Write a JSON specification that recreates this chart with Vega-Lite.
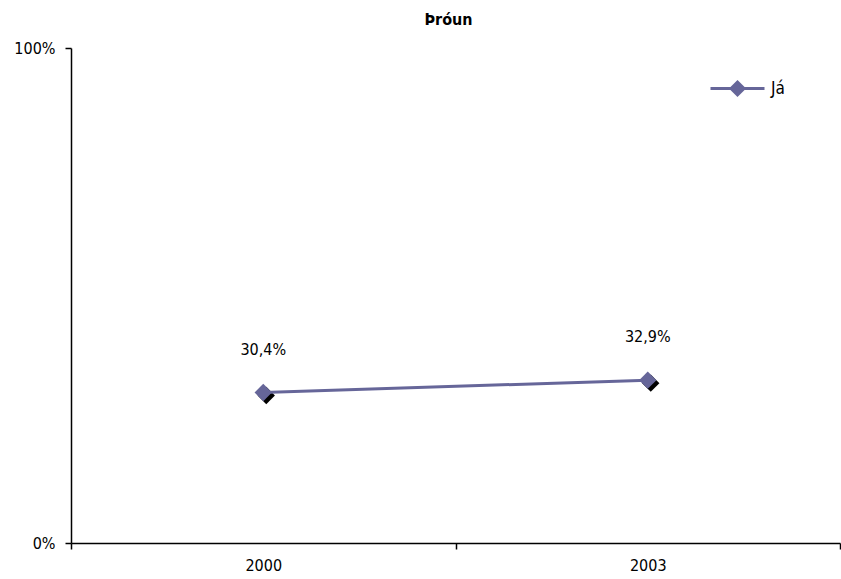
{
  "$schema": "https://vega.github.io/schema/vega-lite/v6.json",
  "width": 769,
  "height": 495,
  "autosize": {"type": "none"},
  "padding": {"left": 71, "top": 48, "right": 1, "bottom": 36},
  "background": "white",
  "config": {
    "view": {"stroke": null},
    "font": "DejaVu Sans Condensed, Liberation Sans, sans-serif",
    "axis": {"grid": false, "domainColor": "black", "tickColor": "black", "labelColor": "black", "labelFont": "DejaVu Sans Condensed, Liberation Sans, sans-serif", "labelFontSize": 16, "domainWidth": 1.5, "tickWidth": 1.5}
  },
  "title": {"text": "Þróun", "fontSize": 16, "fontWeight": "bold", "font": "DejaVu Sans Condensed, Liberation Sans, sans-serif", "color": "black", "offset": 12, "anchor": "middle", "dx": -7},
  "data": {"values": [
    {"year": "2000", "value": 0.304, "label": "30,4%", "series": "Já"},
    {"year": "2003", "value": 0.329, "label": "32,9%", "series": "Já"}
  ]},
  "encoding": {
    "x": {"field": "year", "type": "nominal", "scale": {"type": "band", "paddingInner": 0, "paddingOuter": 0}, "axis": {"title": null, "labelAngle": 0, "tickBand": "extent", "tickSize": 6, "labelPadding": 8}},
    "y": {"field": "value", "type": "quantitative", "scale": {"domain": [0, 1]}, "axis": {"title": null, "values": [0, 1], "format": ".0%", "tickSize": 6, "labelPadding": 10}}
  },
  "layer": [
    {"mark": {"type": "point", "shape": "diamond", "filled": true, "size": 300, "color": "black", "opacity": 1, "xOffset": 3, "yOffset": 3}},
    {"mark": {"type": "line", "strokeWidth": 3},
     "encoding": {"color": {"field": "series", "type": "nominal", "scale": {"range": ["#666699"]},
       "legend": {"title": null, "orient": "none", "legendX": 638, "legendY": 12, "symbolType": "M-1,0H1M-0.24,0L0,-0.24L0.24,0L0,0.24Z", "symbolSize": 2916, "symbolStrokeWidth": 3, "symbolFillColor": "#666699", "labelFontSize": 17, "labelColor": "black", "labelFont": "DejaVu Sans Condensed, Liberation Sans, sans-serif", "labelOffset": 5}}}},
    {"mark": {"type": "point", "shape": "diamond", "filled": true, "size": 300, "color": "#666699", "opacity": 1}},
    {"mark": {"type": "text", "dy": -43, "fontSize": 16, "color": "black", "font": "DejaVu Sans Condensed, Liberation Sans, sans-serif"}, "encoding": {"text": {"field": "label"}}}
  ]
}
